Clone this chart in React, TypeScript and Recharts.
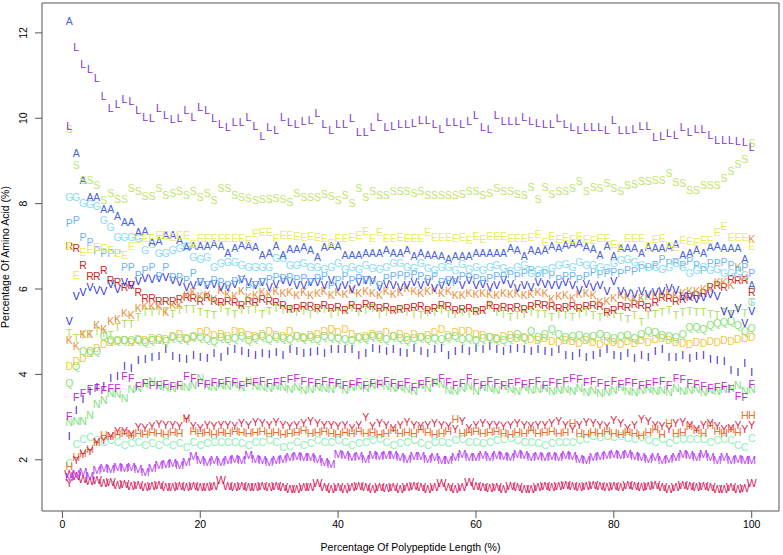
import { ScatterChart, Scatter, XAxis, YAxis, ReferenceArea } from 'recharts'

// percentage position along the polypeptide (1..100)
const POSITIONS = Array.from({ length: 100 }, (_, i) => i + 1)

const X_TICKS = [0, 20, 40, 60, 80, 100]
const Y_TICKS = [2, 4, 6, 8, 10, 12]

const L_VALUES = [9.82, 11.67, 11.27, 11.15, 10.94, 10.52, 10.24, 10.34, 10.45, 10.41, 10.2, 10.03, 10.0, 10.24, 10.06, 9.98, 10.0, 10.2, 10.03, 10.27, 10.2, 9.99, 9.85, 9.8, 9.9, 9.9, 10.03, 9.82, 9.59, 9.8, 9.73, 10.03, 9.9, 9.85, 9.92, 9.96, 10.12, 9.85, 9.71, 9.85, 9.87, 9.99, 9.68, 9.68, 9.78, 10.03, 9.8, 9.82, 9.87, 9.87, 9.88, 9.95, 9.96, 9.85, 9.75, 9.9, 9.9, 9.85, 9.92, 10.08, 9.78, 9.75, 10.06, 9.92, 9.92, 9.94, 10.03, 9.93, 9.88, 9.87, 9.85, 10.0, 9.85, 9.78, 9.71, 9.8, 9.8, 9.78, 9.73, 9.96, 9.71, 9.73, 9.75, 9.82, 9.82, 9.56, 9.59, 9.66, 9.61, 9.78, 9.68, 9.75, 9.75, 9.61, 9.49, 9.49, 9.49, 9.47, 9.45, 9.31]
const S_VALUES = [9.75, 8.89, 8.56, 8.56, 8.44, 8.09, 8.25, 8.11, 8.11, 8.35, 8.28, 8.18, 8.18, 8.37, 8.2, 8.25, 8.3, 8.2, 8.3, 8.16, 8.25, 8.07, 8.37, 8.37, 8.2, 8.14, 8.13, 8.09, 8.11, 8.11, 8.13, 8.11, 8.03, 8.25, 8.16, 8.16, 8.16, 8.23, 8.18, 8.09, 8.2, 8.02, 8.35, 8.16, 8.28, 8.2, 8.2, 8.28, 8.3, 8.28, 8.25, 8.3, 8.2, 8.2, 8.2, 8.2, 8.2, 8.23, 8.3, 8.3, 8.2, 8.25, 8.35, 8.3, 8.28, 8.23, 8.2, 8.38, 8.11, 8.39, 8.23, 8.3, 8.3, 8.35, 8.53, 8.28, 8.39, 8.37, 8.48, 8.35, 8.3, 8.42, 8.46, 8.53, 8.53, 8.54, 8.55, 8.72, 8.5, 8.48, 8.32, 8.32, 8.44, 8.42, 8.42, 8.6, 8.76, 8.93, 9.03, 9.42]
const A_VALUES = [12.28, 9.19, 8.56, 8.16, 8.16, 7.88, 7.88, 7.71, 7.57, 7.57, 7.32, 7.36, 7.1, 7.13, 7.27, 7.27, 7.15, 6.98, 7.0, 7.0, 7.0, 7.04, 7.0, 6.83, 6.95, 7.02, 7.0, 6.98, 6.78, 6.83, 7.0, 6.78, 6.93, 6.93, 6.98, 6.92, 6.75, 6.98, 7.0, 7.0, 6.78, 6.78, 6.78, 6.83, 6.85, 6.85, 6.9, 6.85, 6.83, 6.92, 6.77, 6.85, 6.8, 6.8, 6.77, 6.7, 6.77, 6.77, 6.77, 6.85, 6.85, 6.83, 6.83, 6.85, 6.95, 6.9, 6.77, 6.91, 6.88, 6.9, 7.0, 6.95, 7.02, 7.04, 7.08, 6.98, 6.94, 6.8, 7.0, 6.77, 6.95, 6.95, 6.95, 6.85, 6.98, 6.95, 6.95, 6.98, 7.06, 6.78, 6.85, 6.92, 6.83, 6.98, 7.0, 6.95, 6.95, 6.95, 6.7, 6.1]
const E_VALUES = [7.0, 6.33, 6.87, 6.93, 6.99, 6.95, 6.9, 6.85, 6.8, 7.01, 7.17, 7.2, 7.2, 7.25, 7.27, 7.22, 7.25, 7.27, 7.06, 7.2, 7.18, 7.2, 7.18, 7.19, 7.18, 7.18, 7.15, 7.3, 7.34, 7.32, 7.19, 7.25, 7.27, 7.24, 7.22, 7.23, 7.21, 7.18, 7.08, 7.2, 7.18, 7.22, 7.27, 7.35, 7.18, 7.34, 7.18, 7.2, 7.22, 7.2, 7.2, 7.2, 7.34, 7.22, 7.22, 7.21, 7.18, 7.22, 7.15, 7.23, 7.16, 7.23, 7.23, 7.23, 7.18, 7.18, 7.18, 7.21, 7.28, 7.1, 7.23, 7.16, 7.22, 7.16, 7.23, 7.16, 7.14, 7.18, 7.19, 7.04, 6.95, 7.19, 7.19, 7.19, 7.0, 7.16, 7.18, 7.0, 6.97, 7.15, 7.12, 7.1, 7.14, 7.15, 7.33, 7.46, 7.21, 7.21, 7.21, 7.0]
const G_VALUES = [8.16, 8.16, 8.02, 7.98, 7.95, 7.62, 7.45, 7.22, 7.22, 7.22, 7.18, 6.92, 7.05, 6.85, 6.85, 6.92, 6.95, 7.0, 6.75, 6.7, 6.75, 6.52, 6.6, 6.62, 6.62, 6.56, 6.52, 6.52, 6.52, 6.5, 6.72, 6.72, 6.55, 6.55, 6.6, 6.52, 6.52, 6.47, 6.52, 6.6, 6.47, 6.52, 6.47, 6.55, 6.49, 6.47, 6.5, 6.6, 6.6, 6.52, 6.49, 6.6, 6.48, 6.45, 6.52, 6.5, 6.45, 6.57, 6.47, 6.52, 6.45, 6.5, 6.55, 6.48, 6.42, 6.5, 6.55, 6.38, 6.45, 6.45, 6.48, 6.55, 6.57, 6.5, 6.63, 6.55, 6.55, 6.52, 6.48, 6.6, 6.68, 6.7, 6.62, 6.55, 6.5, 6.5, 6.47, 6.52, 6.6, 6.5, 6.38, 6.45, 6.5, 6.45, 6.47, 6.38, 6.38, 6.35, 6.33, 5.7]
const P_VALUES = [7.55, 7.6, 7.22, 7.1, 6.9, 6.85, 6.85, 6.85, 6.52, 6.52, 6.33, 6.45, 6.52, 6.3, 6.5, 6.27, 6.27, 6.2, 6.38, 6.15, 6.1, 6.2, 6.15, 6.1, 6.18, 6.2, 6.05, 6.1, 6.15, 6.22, 6.28, 6.25, 6.27, 6.22, 6.25, 6.15, 6.25, 6.3, 6.1, 6.2, 6.3, 6.2, 6.25, 6.2, 6.15, 6.1, 6.25, 6.3, 6.33, 6.3, 6.35, 6.3, 6.22, 6.3, 6.15, 6.2, 6.15, 6.3, 6.28, 6.25, 6.2, 6.25, 6.3, 6.3, 6.35, 6.3, 6.38, 6.45, 6.3, 6.38, 6.33, 6.22, 6.3, 6.3, 6.22, 6.3, 6.4, 6.35, 6.38, 6.4, 6.38, 6.45, 6.42, 6.48, 6.5, 6.55, 6.7, 6.6, 6.62, 6.55, 6.65, 6.55, 6.45, 6.6, 6.6, 6.62, 6.55, 6.45, 6.5, 6.38]
const V_VALUES = [5.25, 5.82, 5.93, 6.05, 5.98, 5.96, 6.12, 6.0, 6.15, 6.1, 6.18, 6.25, 6.22, 6.25, 6.28, 6.2, 6.15, 6.05, 6.1, 6.15, 6.08, 6.12, 6.05, 6.05, 6.12, 6.22, 6.15, 6.1, 6.15, 6.05, 6.12, 6.2, 6.15, 6.1, 6.1, 6.15, 6.15, 6.1, 6.2, 6.05, 6.1, 6.0, 6.15, 6.2, 6.2, 6.05, 6.12, 6.1, 6.05, 6.1, 6.15, 6.1, 6.15, 6.03, 6.08, 6.15, 6.2, 6.1, 6.2, 6.08, 6.12, 6.05, 6.1, 6.2, 6.12, 6.03, 6.1, 6.05, 6.15, 6.12, 6.1, 6.1, 6.15, 6.1, 5.97, 6.12, 6.05, 6.1, 5.95, 6.18, 5.95, 5.9, 5.88, 5.95, 5.88, 5.92, 5.95, 6.02, 5.98, 5.82, 5.82, 5.75, 5.8, 5.88, 5.82, 5.47, 5.4, 5.55, 5.2, 5.47]
const R_VALUES = [7.0, 6.95, 6.55, 6.31, 6.31, 6.45, 6.2, 6.15, 6.05, 6.1, 5.93, 5.78, 5.78, 5.72, 5.72, 5.72, 5.75, 5.8, 5.78, 5.72, 5.8, 5.72, 5.68, 5.72, 5.7, 5.62, 5.72, 5.68, 5.75, 5.72, 5.68, 5.62, 5.52, 5.55, 5.6, 5.6, 5.55, 5.62, 5.55, 5.58, 5.5, 5.62, 5.55, 5.65, 5.6, 5.55, 5.58, 5.5, 5.52, 5.55, 5.58, 5.6, 5.5, 5.55, 5.62, 5.6, 5.5, 5.52, 5.55, 5.48, 5.5, 5.62, 5.55, 5.58, 5.55, 5.58, 5.52, 5.6, 5.65, 5.62, 5.6, 5.55, 5.58, 5.6, 5.55, 5.6, 5.62, 5.6, 5.45, 5.5, 5.6, 5.58, 5.65, 5.62, 5.58, 5.7, 5.8, 5.78, 5.72, 5.75, 5.8, 5.85, 5.9, 6.05, 6.1, 6.05, 6.23, 6.2, 6.2, 5.93]
const K_VALUES = [4.79, 4.65, 4.95, 4.95, 5.16, 5.05, 5.25, 5.3, 5.44, 5.38, 5.56, 5.6, 5.6, 5.6, 5.45, 5.63, 5.62, 5.85, 5.92, 5.82, 5.85, 5.75, 5.98, 5.88, 5.82, 5.95, 5.8, 5.85, 5.92, 5.88, 5.95, 5.9, 5.92, 5.85, 5.92, 5.85, 5.9, 5.95, 5.85, 5.92, 5.88, 5.98, 5.9, 5.95, 5.9, 5.85, 5.95, 5.88, 5.92, 6.02, 5.95, 5.9, 5.95, 5.98, 5.9, 5.95, 5.85, 5.85, 5.9, 5.88, 5.9, 5.88, 5.85, 5.9, 5.88, 5.9, 5.85, 5.88, 5.92, 5.9, 5.75, 5.82, 5.85, 5.78, 5.88, 5.9, 5.85, 5.7, 5.72, 5.78, 5.85, 5.8, 5.75, 5.78, 5.82, 5.85, 5.88, 5.9, 5.85, 5.9, 5.95, 5.95, 6.0, 6.0, 6.15, 6.17, 6.1, 6.52, 6.25, 7.17]
const T_VALUES = [4.97, 4.85, 4.92, 4.95, 5.0, 4.97, 4.92, 5.1, 5.18, 5.18, 5.35, 5.45, 5.45, 5.47, 5.47, 5.42, 5.5, 5.52, 5.52, 5.45, 5.42, 5.38, 5.55, 5.45, 5.4, 5.5, 5.5, 5.52, 5.42, 5.48, 5.55, 5.5, 5.52, 5.45, 5.47, 5.42, 5.5, 5.52, 5.4, 5.45, 5.5, 5.55, 5.45, 5.5, 5.55, 5.4, 5.45, 5.5, 5.52, 5.45, 5.4, 5.38, 5.45, 5.45, 5.5, 5.42, 5.4, 5.45, 5.42, 5.45, 5.5, 5.6, 5.45, 5.4, 5.35, 5.38, 5.42, 5.45, 5.4, 5.42, 5.35, 5.4, 5.38, 5.35, 5.4, 5.45, 5.38, 5.35, 5.4, 5.42, 5.35, 5.3, 5.38, 5.23, 5.38, 5.4, 5.45, 5.5, 5.38, 5.45, 5.47, 5.45, 5.45, 5.42, 5.38, 5.45, 5.42, 5.5, 5.44, 5.7]
const Q_VALUES = [3.8, 4.2, 4.55, 4.55, 4.55, 4.9, 4.79, 4.79, 4.8, 4.79, 4.8, 4.75, 4.8, 4.85, 4.78, 4.88, 4.85, 4.82, 4.9, 4.88, 4.82, 4.78, 4.88, 4.82, 4.85, 4.9, 4.8, 4.85, 4.9, 4.82, 4.88, 4.85, 4.82, 4.9, 4.85, 4.88, 4.82, 4.9, 4.88, 4.85, 4.82, 4.8, 4.88, 4.85, 4.9, 4.88, 4.82, 4.9, 4.85, 4.8, 4.85, 4.88, 4.82, 4.85, 4.82, 4.88, 4.9, 4.82, 4.85, 4.8, 4.85, 4.88, 4.82, 4.8, 4.85, 4.95, 4.85, 5.0, 4.88, 4.95, 5.05, 4.95, 4.88, 4.9, 4.92, 4.88, 4.9, 4.95, 4.9, 4.85, 4.9, 4.92, 4.85, 4.95, 5.0, 4.98, 4.92, 4.9, 4.88, 4.95, 5.1, 5.1, 5.05, 5.15, 5.2, 5.22, 5.25, 5.15, 5.0, 5.09]
const D_VALUES = [4.18, 4.3, 4.37, 4.5, 4.62, 4.7, 4.75, 4.78, 4.8, 4.75, 4.82, 4.8, 4.85, 4.8, 4.82, 4.9, 4.95, 4.85, 4.88, 4.98, 5.02, 4.92, 4.95, 4.9, 5.0, 4.98, 4.92, 4.9, 4.95, 5.0, 4.92, 4.9, 5.0, 4.9, 4.88, 4.92, 4.95, 5.0, 5.05, 4.98, 5.05, 4.95, 4.88, 4.9, 4.95, 4.92, 4.98, 4.9, 4.95, 4.88, 4.95, 4.88, 4.92, 4.98, 5.05, 4.92, 4.98, 5.02, 5.0, 4.95, 4.92, 4.88, 4.85, 4.9, 4.92, 4.85, 4.88, 4.82, 4.8, 4.85, 4.78, 4.75, 4.8, 4.78, 4.72, 4.8, 4.75, 4.7, 4.78, 4.75, 4.7, 4.78, 4.72, 4.8, 4.75, 4.82, 4.85, 4.8, 4.75, 4.72, 4.7, 4.75, 4.72, 4.78, 4.75, 4.8, 4.78, 4.82, 4.85, 4.88]
const I_VALUES = [2.56, 3.15, 3.43, 3.6, 3.7, 3.73, 3.9, 3.96, 4.18, 4.14, 4.34, 4.35, 4.41, 4.42, 4.6, 4.42, 4.38, 4.35, 4.45, 4.4, 4.38, 4.5, 4.4, 4.55, 4.58, 4.55, 4.5, 4.45, 4.5, 4.48, 4.52, 4.45, 4.6, 4.55, 4.5, 4.52, 4.55, 4.5, 4.58, 4.6, 4.58, 4.6, 4.45, 4.5, 4.62, 4.6, 4.55, 4.58, 4.52, 4.5, 4.62, 4.55, 4.5, 4.6, 4.62, 4.45, 4.55, 4.58, 4.55, 4.62, 4.6, 4.65, 4.6, 4.55, 4.6, 4.62, 4.58, 4.55, 4.6, 4.55, 4.52, 4.58, 4.45, 4.42, 4.5, 4.4, 4.45, 4.5, 4.58, 4.45, 4.42, 4.5, 4.38, 4.45, 4.4, 4.55, 4.6, 4.4, 4.4, 4.45, 4.38, 4.42, 4.45, 4.35, 4.34, 4.3, 4.1, 4.05, 4.27, 4.06]
const F_VALUES = [3.03, 3.47, 3.56, 3.66, 3.68, 3.63, 3.68, 3.68, 3.96, 3.9, 3.72, 3.8, 3.75, 3.75, 3.78, 3.72, 3.75, 3.95, 3.92, 3.8, 3.78, 3.82, 3.8, 3.85, 3.82, 3.75, 3.8, 3.82, 3.85, 3.8, 3.82, 3.85, 3.88, 3.92, 3.85, 3.82, 3.8, 3.85, 3.82, 3.8, 3.75, 3.78, 3.82, 3.75, 3.8, 3.78, 3.85, 3.8, 3.75, 3.82, 3.7, 3.78, 3.85, 3.8, 3.9, 3.82, 3.75, 3.8, 3.9, 3.8, 3.75, 3.85, 3.8, 3.75, 3.8, 3.82, 3.78, 3.8, 3.85, 3.75, 3.82, 3.8, 3.85, 3.92, 3.88, 3.82, 3.85, 3.8, 3.75, 3.85, 3.78, 3.82, 3.8, 3.75, 3.78, 3.82, 3.85, 3.75, 3.9, 3.88, 3.8, 3.78, 3.72, 3.68, 3.7, 3.72, 3.65, 3.5, 3.47, 3.78]
const N_VALUES = [2.87, 2.9, 2.9, 3.05, 3.31, 3.4, 3.56, 3.53, 3.45, 3.66, 3.68, 3.76, 3.85, 3.72, 3.7, 3.68, 3.72, 3.7, 3.75, 3.92, 3.72, 3.7, 3.75, 3.72, 3.78, 3.7, 3.85, 3.72, 3.7, 3.68, 3.72, 3.7, 3.65, 3.7, 3.62, 3.65, 3.7, 3.68, 3.65, 3.75, 3.62, 3.7, 3.72, 3.68, 3.75, 3.8, 3.72, 3.68, 3.7, 3.65, 3.6, 3.75, 3.68, 3.82, 3.78, 3.62, 3.6, 3.68, 3.72, 3.6, 3.7, 3.68, 3.62, 3.72, 3.65, 3.6, 3.7, 3.62, 3.65, 3.68, 3.6, 3.62, 3.65, 3.6, 3.68, 3.58, 3.62, 3.55, 3.58, 3.62, 3.7, 3.6, 3.58, 3.62, 3.65, 3.6, 3.62, 3.58, 3.68, 3.6, 3.62, 3.65, 3.58, 3.62, 3.6, 3.65, 3.68, 3.75, 3.6, 3.65]
const Y_VALUES = [1.46, 2.0, 2.14, 2.2, 2.4, 2.45, 2.55, 2.68, 2.68, 2.6, 2.77, 2.75, 2.78, 2.84, 2.82, 2.8, 2.78, 2.95, 2.78, 2.75, 2.8, 2.78, 2.82, 2.8, 2.78, 2.85, 2.8, 2.88, 2.85, 2.82, 2.88, 2.8, 2.78, 2.82, 2.85, 2.9, 2.85, 2.8, 2.82, 2.78, 2.8, 2.75, 2.82, 3.0, 2.78, 2.85, 2.8, 2.75, 2.8, 2.88, 2.82, 2.78, 2.8, 2.85, 2.82, 2.78, 2.72, 2.9, 2.75, 2.8, 2.85, 2.82, 2.8, 2.78, 2.82, 2.85, 2.8, 2.78, 2.82, 2.8, 2.85, 2.9, 2.8, 2.72, 2.82, 2.88, 2.85, 2.8, 2.78, 2.92, 2.85, 2.75, 2.8, 2.95, 2.9, 2.82, 2.78, 2.72, 2.85, 2.88, 2.8, 2.72, 2.82, 2.85, 2.78, 2.72, 2.75, 2.8, 2.72, 2.82]
const H_VALUES = [1.85, 2.05, 2.16, 2.25, 2.4, 2.58, 2.55, 2.6, 2.62, 2.58, 2.62, 2.6, 2.65, 2.62, 2.6, 2.65, 2.62, 2.98, 2.68, 2.62, 2.65, 2.6, 2.65, 2.62, 2.68, 2.65, 2.62, 2.65, 2.68, 2.62, 2.65, 2.6, 2.62, 2.65, 2.7, 2.62, 2.65, 2.68, 2.62, 2.6, 2.65, 2.62, 2.68, 2.62, 2.65, 2.6, 2.62, 2.7, 2.62, 2.65, 2.62, 2.72, 2.65, 2.6, 2.62, 2.68, 2.95, 2.62, 2.65, 2.68, 2.62, 2.65, 2.68, 2.62, 2.6, 2.65, 2.62, 2.7, 2.62, 2.65, 2.68, 2.62, 2.65, 2.85, 2.62, 2.6, 2.65, 2.62, 2.68, 2.62, 2.6, 2.65, 2.62, 2.58, 2.65, 2.72, 2.6, 2.85, 2.62, 2.65, 2.78, 2.7, 2.62, 2.82, 2.68, 2.62, 2.72, 2.65, 3.05, 3.05]
const C_VALUES = [1.93, 2.37, 2.49, 2.52, 2.45, 2.4, 2.45, 2.42, 2.35, 2.38, 2.4, 2.35, 2.38, 2.35, 2.42, 2.35, 2.38, 2.3, 2.4, 2.35, 2.38, 2.42, 2.4, 2.42, 2.4, 2.38, 2.35, 2.42, 2.4, 2.45, 2.42, 2.3, 2.32, 2.42, 2.35, 2.38, 2.45, 2.4, 2.42, 2.45, 2.4, 2.35, 2.38, 2.4, 2.45, 2.48, 2.42, 2.35, 2.38, 2.42, 2.45, 2.38, 2.35, 2.4, 2.42, 2.38, 2.45, 2.48, 2.42, 2.4, 2.38, 2.42, 2.45, 2.48, 2.5, 2.45, 2.42, 2.4, 2.38, 2.35, 2.38, 2.4, 2.42, 2.4, 2.45, 2.48, 2.55, 2.52, 2.55, 2.52, 2.55, 2.5, 2.48, 2.52, 2.45, 2.42, 2.48, 2.38, 2.45, 2.48, 2.48, 2.48, 2.48, 2.42, 2.45, 2.48, 2.45, 2.35, 2.3, 2.5]
const M_VALUES = [1.6, 1.65, 1.7, 1.62, 1.75, 1.8, 1.78, 1.82, 1.8, 1.82, 1.78, 1.72, 1.8, 1.88, 1.9, 1.92, 1.88, 1.95, 2.08, 1.98, 1.95, 1.98, 1.95, 2.0, 2.02, 1.98, 2.1, 2.02, 2.0, 1.95, 1.98, 2.02, 2.05, 2.08, 2.05, 2.05, 2.02, 1.95, 1.9, 2.12, 2.1, 2.05, 2.08, 2.02, 2.1, 2.08, 2.1, 2.1, 2.05, 2.02, 2.08, 2.08, 2.02, 2.05, 2.0, 1.98, 2.05, 2.12, 2.05, 2.05, 2.1, 2.05, 2.1, 2.08, 2.05, 2.12, 2.1, 2.05, 2.08, 2.05, 2.08, 2.05, 2.1, 2.08, 2.02, 2.0, 2.05, 2.08, 2.1, 2.12, 2.1, 2.12, 2.08, 2.05, 2.02, 2.05, 2.0, 2.02, 2.05, 2.12, 2.1, 2.05, 2.12, 2.05, 2.0, 2.05, 1.98, 2.02, 2.0, 2.0]
const W_VALUES = [1.65, 1.62, 1.55, 1.5, 1.52, 1.45, 1.48, 1.4, 1.42, 1.38, 1.4, 1.35, 1.38, 1.4, 1.36, 1.35, 1.38, 1.35, 1.38, 1.36, 1.35, 1.37, 1.52, 1.38, 1.35, 1.38, 1.36, 1.35, 1.37, 1.35, 1.38, 1.36, 1.3, 1.32, 1.35, 1.35, 1.46, 1.35, 1.3, 1.35, 1.32, 1.35, 1.38, 1.35, 1.32, 1.35, 1.33, 1.35, 1.32, 1.35, 1.38, 1.35, 1.32, 1.35, 1.46, 1.35, 1.32, 1.35, 1.48, 1.38, 1.35, 1.33, 1.35, 1.32, 1.38, 1.35, 1.32, 1.3, 1.35, 1.38, 1.35, 1.38, 1.4, 1.38, 1.35, 1.38, 1.4, 1.38, 1.35, 1.38, 1.35, 1.4, 1.38, 1.35, 1.38, 1.4, 1.35, 1.32, 1.35, 1.4, 1.38, 1.35, 1.38, 1.35, 1.32, 1.3, 1.35, 1.3, 1.33, 1.45]

const SERIES = [
      { letter: 'W', color: '#d6195c', values: W_VALUES },
      { letter: 'M', color: '#b43cf0', values: M_VALUES },
      { letter: 'C', color: '#8ef0b4', values: C_VALUES },
      { letter: 'H', color: '#e8702a', values: H_VALUES },
      { letter: 'Y', color: '#d81e48', values: Y_VALUES },
      { letter: 'N', color: '#7ee07a', values: N_VALUES },
      { letter: 'F', color: '#c824d8', values: F_VALUES },
      { letter: 'I', color: '#3a1eb4', values: I_VALUES },
      { letter: 'D', color: '#f4c84a', values: D_VALUES },
      { letter: 'Q', color: '#8ae27a', values: Q_VALUES },
      { letter: 'T', color: '#a8e050', values: T_VALUES },
      { letter: 'R', color: '#c8281e', values: R_VALUES },
      { letter: 'K', color: '#e8903c', values: K_VALUES },
      { letter: 'V', color: '#2a2ed8', values: V_VALUES },
      { letter: 'P', color: '#6cb4f4', values: P_VALUES },
      { letter: 'G', color: '#8cdcf4', values: G_VALUES },
      { letter: 'A', color: '#4a64dc', values: A_VALUES },
      { letter: 'E', color: '#e8ec60', values: E_VALUES },
      { letter: 'S', color: '#c0e468', values: S_VALUES },
      { letter: 'L', color: '#7c34d0', values: L_VALUES },
]

const FONT = '"Liberation Sans", Arial, Helvetica, sans-serif'

const letterShape = (letter: string, color: string) => (props: any) => {
      const { cx, cy } = props
      if (cx == null || cy == null) return <g />
      return (
            <text x={cx} y={cy} dy="0.36em" textAnchor="middle" fill={color} fontSize={10.5} fontFamily={FONT}>
                  {letter}
            </text>
      )
}

const YTick = (props: any) => {
      const { x, y, payload } = props
      return (
            <text x={x - 5} y={y} textAnchor="middle" fontSize={10.5} fontFamily={FONT} fill="#000" transform={`rotate(-90, ${x - 5}, ${y})`}>
                  {payload.value}
            </text>
      )
}

export default function App() {
      return (
            <div style={{ position: 'absolute', left: 0, top: 0, width: 783, height: 555, background: '#fff' }}>
                  <ScatterChart width={783} height={555} margin={{ top: 3, right: 4, bottom: 0, left: 0 }}>
                        <XAxis
                              type="number"
                              dataKey="x"
                              domain={[-2.96, 103.96]}
                              ticks={X_TICKS}
                              allowDataOverflow
                              height={44}
                              axisLine={false}
                              tickSize={7}
                              tickMargin={3}
                              tickLine={{ stroke: '#555' }}
                              tick={{ fontSize: 10.5, fill: '#000', fontFamily: FONT }}
                              label={{
                                    content: (p: any) => (
                                          <text x={p.viewBox.x + p.viewBox.width / 2} y={p.viewBox.y + 40} textAnchor="middle" fontSize={10.5} fontFamily={FONT} fill="#000">
                                                Percentage Of Polypeptide Length (%)
                                          </text>
                                    )
                              }}
                        />
                        <YAxis
                              type="number"
                              dataKey="y"
                              domain={[0.8, 12.7]}
                              ticks={Y_TICKS}
                              allowDataOverflow
                              width={42}
                              axisLine={false}
                              tickSize={7}
                              tickMargin={3}
                              tickLine={{ stroke: '#555' }}
                              tick={<YTick />}
                              label={{
                                    content: (p: any) => {
                                          const cx = 9
                                          const cy = p.viewBox.y + p.viewBox.height / 2
                                          return (
                                                <text x={cx} y={cy} textAnchor="middle" fontSize={10.5} fontFamily={FONT} fill="#000" transform={`rotate(-90, ${cx}, ${cy})`}>
                                                      Percentage Of Amino Acid (%)
                                                </text>
                                          )
                                    }
                              }}
                        />
                        <ReferenceArea x1={-2.96} x2={103.96} y1={0.8} y2={12.7} fill="none" stroke="#555" strokeWidth={1} />
                        {SERIES.map((s) => (
                              <Scatter
                                    key={s.letter}
                                    name={s.letter}
                                    data={POSITIONS.map((x, i) => ({ x, y: s.values[i] }))}
                                    shape={letterShape(s.letter, s.color)}
                                    isAnimationActive={false}
                              />
                        ))}
                  </ScatterChart>
            </div>
      )
}
